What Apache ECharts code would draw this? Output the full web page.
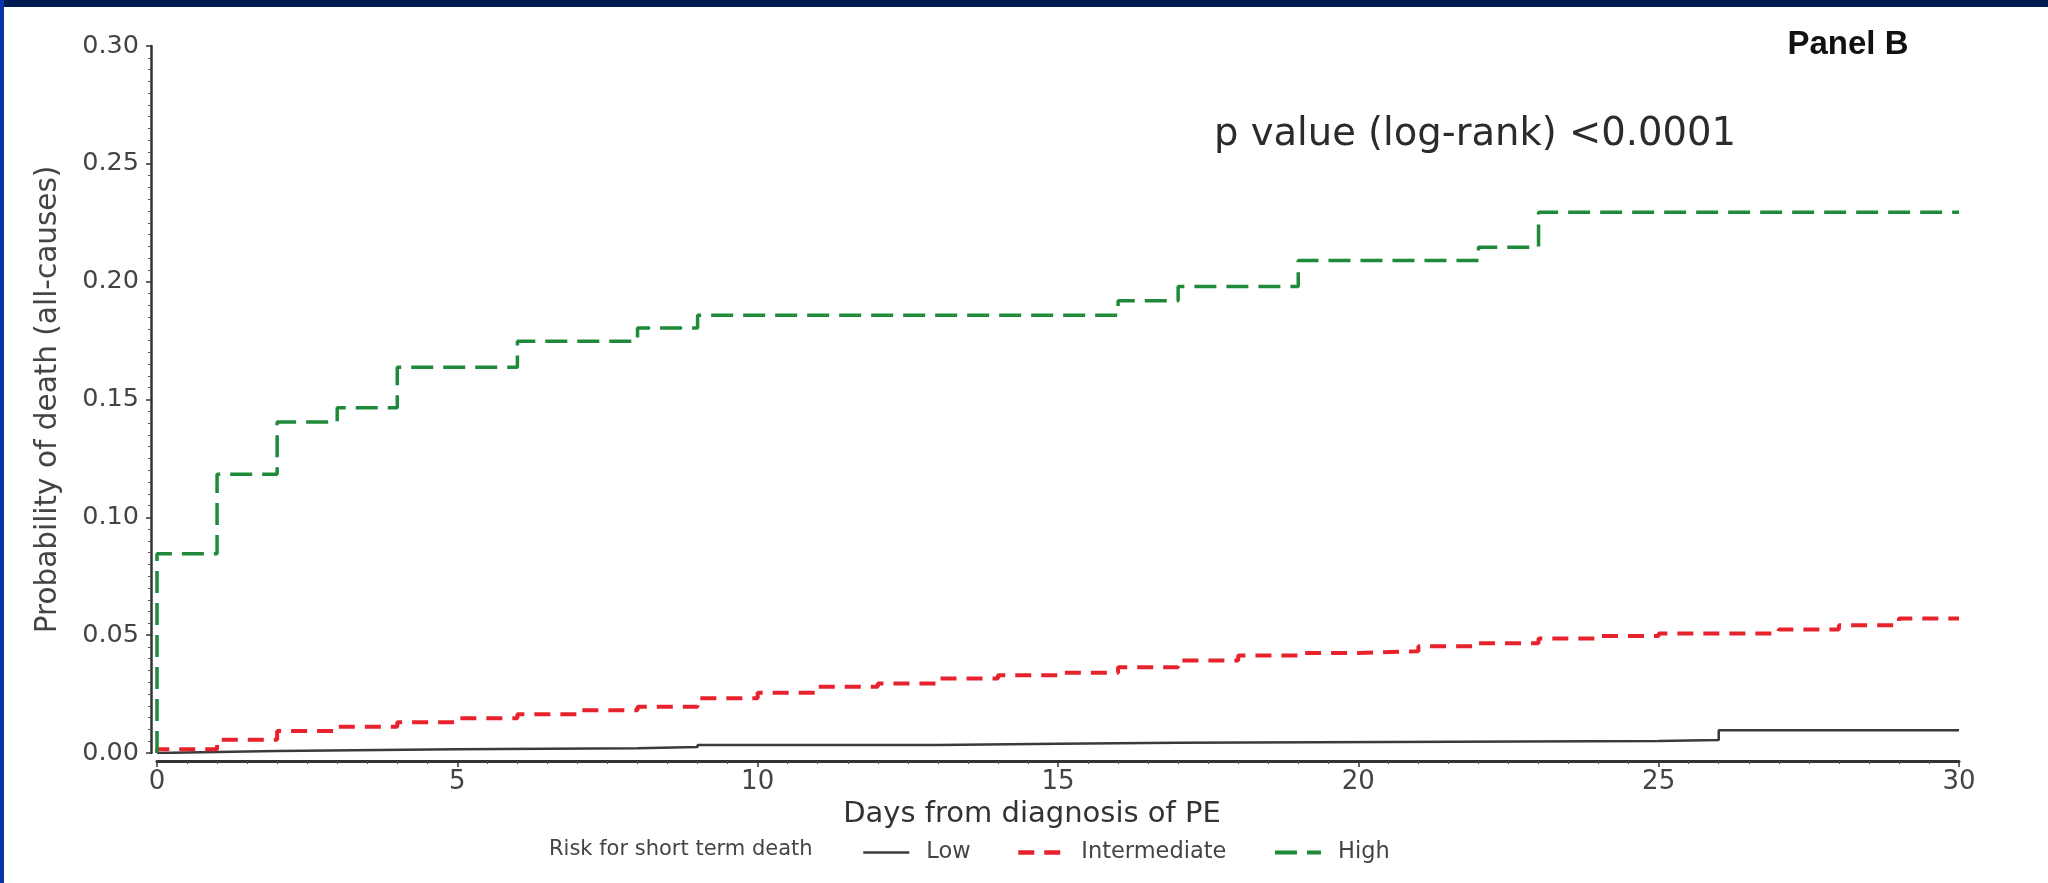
<!DOCTYPE html>
<html>
<head>
<meta charset="utf-8">
<script src="https://cdn.jsdelivr.net/npm/echarts@6/dist/echarts.min.js"></script>
<style>
html,body{margin:0;padding:0;background:#ffffff;}
#chart{width:2048px;height:883px;}
</style>
</head>
<body>
<div id="chart"></div>
<script>
// ---- data ----
const xTicks = [0, 5, 10, 15, 20, 25, 30];
const yTicks = [0, 0.05, 0.10, 0.15, 0.20, 0.25, 0.30];

const seriesNames = ['Low', 'Intermediate', 'High'];

const lowTimes  = [0, 0, 1, 2, 5, 8, 9, 13, 15, 17, 25, 26, 30];
const lowValues = [0, 0.0004, 0.0008, 0.0016, 0.0020, 0.0025, 0.0034, 0.0039, 0.0044, 0.0051, 0.0055, 0.0097, 0.0097];

const intTimes  = [0, 0, 1, 2, 3, 4, 5, 6, 7, 8, 9, 10, 11, 12, 13, 14, 15, 16, 17, 18, 19, 20, 21, 22, 23, 24, 25, 27, 28, 29, 30];
const intValues = [0, 0.0016, 0.0056, 0.0093, 0.0111, 0.0131, 0.0147, 0.0164, 0.0181, 0.0196, 0.0232, 0.0256, 0.0281, 0.0295, 0.0316, 0.0330, 0.0340, 0.0364, 0.0393, 0.0414, 0.0424, 0.0432, 0.0453, 0.0466, 0.0486, 0.0496, 0.0507, 0.0524, 0.0542, 0.0571, 0.0571];

const highTimes  = [0, 0, 1, 2, 3, 4, 6, 8, 9, 16, 17, 19, 22, 23, 30];
const highValues = [0, 0.0845, 0.1183, 0.1404, 0.1465, 0.1637, 0.1747, 0.1803, 0.1858, 0.1919, 0.1980, 0.2090, 0.2146, 0.2295, 0.2295];

const xTitle = 'Days from diagnosis of PE';
const yTitle = 'Probability of death (all-causes)';
const legendTitle = 'Risk for short term death';
const pValueText = 'p value (log-rank) <0.0001';
const panelText = 'Panel B';

// ---- chart ----
const pairs = (t, v) => t.map((x, i) => [x, v[i]]);
const FONT = '"DejaVu Sans", "Liberation Sans", sans-serif';
const chart = echarts.init(document.getElementById('chart'), null, {renderer: 'canvas'});

const legendBase = {
  orient: 'horizontal', top: 836, itemWidth: 46, itemHeight: 14, itemGap: 10,
  itemStyle: {opacity: 0},
  textStyle: {fontFamily: FONT, fontSize: 22.5, color: '#444', padding: [0, 0, 0, 12]}
};

chart.setOption({
  animation: false,
  backgroundColor: '#ffffff',
  grid: {left: 157, right: 89, top: 46, bottom: 130, containLabel: false},
  xAxis: {
    type: 'value', min: xTicks[0], max: xTicks[xTicks.length - 1], interval: xTicks[1] - xTicks[0],
    offset: 8,
    name: xTitle, nameLocation: 'middle', nameGap: 36,
    nameTextStyle: {fontFamily: FONT, fontSize: 29, color: '#333', padding: [0, 52, 0, 0]},
    axisLine: {show: true, onZero: false, lineStyle: {color: '#333', width: 3}},
    axisTick: {show: true, length: 6, lineStyle: {color: '#333', width: 1.5}},
    minorTick: {show: true, splitNumber: 10, length: 3, lineStyle: {color: '#555', width: 1}},
    axisLabel: {fontFamily: FONT, fontSize: 26, color: '#444', margin: 8},
    splitLine: {show: false}
  },
  yAxis: {
    type: 'value', min: yTicks[0], max: yTicks[yTicks.length - 1], interval: yTicks[1] - yTicks[0],
    offset: 6,
    name: yTitle, nameLocation: 'middle', nameGap: 88, nameRotate: 90,
    nameTextStyle: {fontFamily: FONT, fontSize: 29.5, color: '#444'},
    axisLine: {show: true, onZero: false, lineStyle: {color: '#333', width: 2.5}},
    axisTick: {show: true, length: 5, lineStyle: {color: '#333', width: 1.5}},
    minorTick: {show: true, splitNumber: 10, length: 3, lineStyle: {color: '#555', width: 1}},
    axisLabel: {fontFamily: FONT, fontSize: 25.5, color: '#444', margin: 12,
      formatter: v => v.toFixed(2)},
    splitLine: {show: false}
  },
  legend: [
    Object.assign({}, legendBase, {left: 857, data: [seriesNames[0]], lineStyle: {width: 2.5}}),
    Object.assign({}, legendBase, {left: 1011, data: [seriesNames[1]], lineStyle: {width: 4.5}}),
    Object.assign({}, legendBase, {left: 1268, data: [seriesNames[2]], lineStyle: {width: 4}})
  ],
  graphic: [
    {type: 'rect', left: 0, top: 0, z: 100, shape: {width: 2048, height: 7}, style: {fill: '#001b52'}},
    {type: 'rect', left: 0, top: 0, z: 100, shape: {width: 4, height: 883}, style: {fill: '#0535a8'}},
    {type: 'text', x: 549, y: 850, style: {text: legendTitle, fontFamily: FONT, fontSize: 21, fill: '#444',
      textAlign: 'left', align: 'left', textVerticalAlign: 'middle', verticalAlign: 'middle'}},
    {type: 'text', x: 1475, y: 135, style: {text: pValueText, fontFamily: FONT, fontSize: 38.5, fill: '#2b2b2b',
      textAlign: 'center', align: 'center', textVerticalAlign: 'middle', verticalAlign: 'middle'}},
    {type: 'text', x: 1848, y: 45, style: {text: panelText, fontFamily: '"Liberation Sans", Arial, sans-serif',
      fontSize: 33, fontWeight: 'bold', fill: '#111',
      textAlign: 'center', align: 'center', textVerticalAlign: 'middle', verticalAlign: 'middle'}}
  ],
  series: [
    {
      name: seriesNames[0], type: 'line', step: 'end', showSymbol: false, symbol: 'none',
      data: pairs(lowTimes, lowValues),
      lineStyle: {color: '#3a3a3a', width: 2.5, type: 'solid'},
      itemStyle: {color: '#3a3a3a'}, z: 3
    },
    {
      name: seriesNames[1], type: 'line', step: 'end', showSymbol: false, symbol: 'none',
      data: pairs(intTimes, intValues),
      lineStyle: {color: '#e8222c', width: 4, type: [16, 10]},
      itemStyle: {color: '#e8222c'}, z: 4
    },
    {
      name: seriesNames[2], type: 'line', step: 'end', showSymbol: false, symbol: 'none',
      data: pairs(highTimes, highValues),
      lineStyle: {color: '#1f8a3a', width: 3.5, type: [22, 10]},
      itemStyle: {color: '#1f8a3a'}, z: 5
    }
  ]
});
</script>
</body>
</html>
